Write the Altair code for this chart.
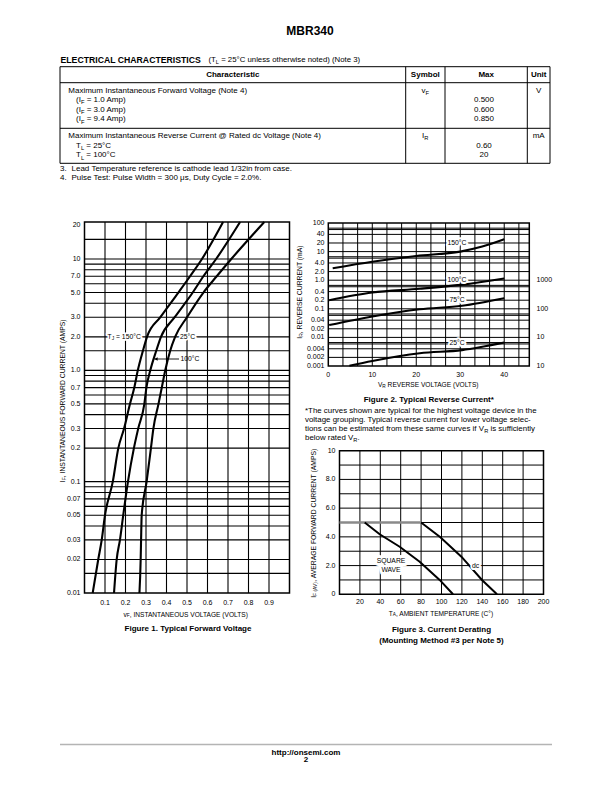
import altair as alt
import pandas as pd

# ====================== chart values ======================
# Figure 1 - Typical Forward Voltage: V_F (V) at each forward current I_F (A)
f1_i_levels = [0.01, 0.02, 0.03, 0.05, 0.1, 0.2, 0.3, 0.5, 0.7, 1.0, 1.5, 2.0, 3.0, 5.0, 7.0, 10.0, 21.5]
f1_v_150 = [0.040, 0.067, 0.084, 0.100, 0.138, 0.165, 0.193, 0.222, 0.243, 0.260, 0.285, 0.305, 0.370, 0.458, 0.515, 0.573, 0.676]
f1_v_100 = [0.144, 0.157, 0.173, 0.189, 0.212, 0.241, 0.262, 0.292, 0.302, 0.321, 0.350, 0.373, 0.440, 0.528, 0.580, 0.642, 0.759]
f1_v_25 = [0.268, 0.274, 0.276, 0.279, 0.303, 0.324, 0.336, 0.361, 0.377, 0.394, 0.418, 0.442, 0.500, 0.580, 0.645, 0.716, 0.877]
f1_x_ticks = [0.1, 0.2, 0.3, 0.4, 0.5, 0.6, 0.7, 0.8, 0.9]
f1_x_labels = ["0.1", "0.2", "0.3", "0.4", "0.5", "0.6", "0.7", "0.8", "0.9"]
f1_y_ticks = [20, 10, 7, 5, 3, 2, 1, 0.7, 0.5, 0.3, 0.2, 0.1, 0.07, 0.05, 0.03, 0.02, 0.01]
f1_y_labels = ["20", "10", "7.0", "5.0", "3.0", "2.0", "1.0", "0.7", "0.5", "0.3", "0.2", "0.1",
               "0.07", "0.05", "0.03", "0.02", "0.01"]
f1_grid_i = [15, 10, 9, 8, 7, 6, 5, 4, 3, 2, 1.5, 1, 0.9, 0.8, 0.7, 0.6, 0.5, 0.4, 0.3, 0.2,
             0.1, 0.09, 0.08, 0.07, 0.06, 0.05, 0.04, 0.03, 0.02, 0.015]
f1_xdom = [0, 1]
f1_ydom = [0.01, 21.5]

# Figure 2 - Typical Reverse Current: V_R (V) vs I_R (mA)
f2_v_150 = [1.0, 10.0, 20.0, 30.0, 35.0, 40.0]
f2_i_150 = [2.6, 4.4, 7.0, 10.0, 15.0, 27.0]
f2_v_100 = [0.2, 10.0, 20.8, 30.4, 40.0]
f2_i_100 = [0.20, 0.37, 0.50, 0.70, 1.15]
f2_v_75 = [0.2, 10.0, 20.8, 30.4, 40.0]
f2_i_75 = [0.027, 0.054, 0.096, 0.128, 0.235]
f2_v_25 = [4.8, 10.0, 20.8, 30.4, 40.0]
f2_i_25 = [0.00102, 0.0015, 0.0028, 0.0036, 0.0066]
f2_x_ticks = [0, 10, 20, 30, 40]
f2_x_labels = ["0", "10", "20", "30", "40"]
f2_y_ticks = [100, 40, 20, 10, 4, 2, 1, 0.4, 0.2, 0.1, 0.04, 0.02, 0.01, 0.004, 0.002, 0.001]
f2_y_labels = ["100", "40", "20", "10", "4.0", "2.0", "1.0", "0.4", "0.2", "0.1", "0.04", "0.02",
               "0.01", "0.004", "0.002", "0.001"]
f2_right_ticks = [1, 0.1, 0.01, 0.001]
f2_right_labels = ["1000", "100", "10", "10"]
f2_grid_v = [3.33, 6.67, 10, 13.33, 16.67, 20, 23.33, 26.67, 30, 33.33, 36.67, 40, 43.33]
f2_grid_i = [66, 59, 40, 20, 10, 6.6, 5.9, 4, 2, 1, 0.66, 0.59, 0.4, 0.2, 0.1, 0.066, 0.059,
             0.04, 0.02, 0.01, 0.0066, 0.0059, 0.004, 0.002]
f2_label_names = ["150°C", "100°C", "75°C", "25°C"]
f2_label_levels = [20, 1, 0.2, 0.0062]
f2_xdom = [0, 45.7]
f2_ydom = [0.001, 100]

# Figure 3 - Current Derating: T_A (C) vs I_F(AV) (A)
f3_flat_t = [0, 80]
f3_flat_i = [5.0, 5.0]
f3_sq_t = [24.7, 39.4, 59.0, 78.6, 98.2, 111.3]
f3_sq_i = [5.0, 4.18, 3.31, 2.27, 1.0, 0.0]
f3_dc_t = [80.0, 98.9, 119.5, 139.7, 154.4]
f3_dc_i = [5.0, 3.97, 2.62, 1.0, 0.0]
f3_x_ticks = [20, 40, 60, 80, 100, 120, 140, 160, 180, 200]
f3_x_labels = ["20", "40", "60", "80", "100", "120", "140", "160", "180", "200"]
f3_y_ticks = [10, 8, 6, 4, 2, 0]
f3_y_labels = ["10", "8.0", "6.0", "4.0", "2.0", "0"]
f3_grid_t = [20, 40, 60, 80, 100, 120, 140, 160, 180]
f3_grid_i = [1, 2, 3, 4, 5, 6, 7, 8, 9]
f3_xdom = [0, 200]
f3_ydom = [0, 10]

# ====================== layout helpers ======================
FONT = "Liberation Sans, Arial, Helvetica, sans-serif"
OFF = 8  # page margin


def px(v):
    return v - OFF


HELV = {' ': 278, '!': 278, '"': 355, '#': 556, '%': 889, '&': 667, "'": 191, '(': 333, ')': 333,
        '*': 389, '+': 584, ',': 278, '-': 333, '.': 278, '/': 278, ':': 278, ';': 278, '=': 584,
        '@': 1015, '°': 400, 'μ': 556}
for ch in '0123456789':
    HELV[ch] = 556
HELV.update(dict(A=667, B=667, C=722, D=722, E=667, F=611, G=778, H=722, I=278, J=500, K=667, L=556,
                 M=833, N=722, O=778, P=667, Q=778, R=722, S=667, T=611, U=722, V=667, W=944, X=667,
                 Y=667, Z=611))
HELV.update(dict(a=556, b=556, c=500, d=556, e=556, f=278, g=556, h=556, i=222, j=222, k=500, l=222,
                 m=833, n=556, o=556, p=556, q=556, r=333, s=500, t=278, u=556, v=500, w=722, x=500,
                 y=500, z=500))


def tw(s, size):
    return sum(HELV.get(c, 556) for c in s) * size / 1000.0


layers = []


def text_layer(rows, size, align='left', weight='normal', angle=0, dy=0.0, halo=0,
               xscale=None, yscale=None, color='black'):
    d = pd.DataFrame(rows)
    if xscale is None:
        d['x'] = d['x'] - OFF
        xch = alt.X('x:Q', scale=None, axis=None)
    else:
        xch = alt.X('x:Q', scale=xscale, axis=None)
    if yscale is None:
        d['y'] = d['y'] - OFF
        ych = alt.Y('y:Q', scale=None, axis=None)
    else:
        ych = alt.Y('y:Q', scale=yscale, axis=None)
    base = alt.Chart(d).encode(x=xch, y=ych, text='t:N')
    props = dict(font=FONT, fontSize=size, fontWeight=weight, align=align, baseline='middle',
                 angle=angle, dy=dy)
    if halo:
        layers.append(base.mark_text(color='white', stroke='white', strokeWidth=halo,
                                     strokeJoin='round', **props))
    layers.append(base.mark_text(color=color, **props))


def rich(parts, x, y, size, anchor='left', angle=0, halo=0, yscale=None, weight='normal', sub=0.72):
    sizes = [size * sub if s else size for _, s in parts]
    widths = [tw(t, z) for (t, _), z in zip(parts, sizes)]
    W = sum(widths)
    cum = {'left': 0.0, 'center': -W / 2.0, 'right': -W}[anchor]
    main, subs = [], []
    for (t, s), z, w in zip(parts, sizes, widths):
        stripped = t.lstrip(' ')
        o = cum + tw(t[:len(t) - len(stripped)], z)
        if angle == 270:
            row = {'t': stripped, 'x': x, 'y': y - o}
        else:
            row = {'t': stripped, 'x': x + o, 'y': y}
        (subs if s else main).append(row)
        cum += w
    if main:
        text_layer(main, size, 'left', weight, angle, 0.0, halo, yscale=yscale)
    if subs:
        text_layer(subs, size * sub, 'left', weight, angle, size * 0.3, halo, yscale=yscale)


def rules_px(segs, color='black', width=1.0):
    d = pd.DataFrame([{'x': px(a), 'y': px(b), 'x2': px(c), 'y2': px(e)} for a, b, c, e in segs])
    layers.append(alt.Chart(d).mark_rule(color=color, strokeWidth=width).encode(
        x=alt.X('x:Q', scale=None, axis=None), y=alt.Y('y:Q', scale=None, axis=None),
        x2='x2:Q', y2='y2:Q'))


def vgrid(values, xs, ys, ydom, width=1.0):
    d = pd.DataFrame({'v': values, 'a': ydom[0], 'b': ydom[1]})
    layers.append(alt.Chart(d).mark_rule(color='black', strokeWidth=width).encode(
        x=alt.X('v:Q', scale=xs, axis=None), y=alt.Y('a:Q', scale=ys, axis=None), y2='b:Q'))


def hgrid(values, xs, ys, xdom, width=1.0):
    d = pd.DataFrame({'v': values, 'a': xdom[0], 'b': xdom[1]})
    layers.append(alt.Chart(d).mark_rule(color='black', strokeWidth=width).encode(
        y=alt.Y('v:Q', scale=ys, axis=None), x=alt.X('a:Q', scale=xs, axis=None), x2='b:Q'))


def frame(xs, ys, xdom, ydom, width=1.5):
    d = pd.DataFrame({'x0': [xdom[0]], 'x1': [xdom[1]], 'y0': [ydom[0]], 'y1': [ydom[1]]})
    layers.append(alt.Chart(d).mark_rect(fill='white', fillOpacity=0, stroke='black',
                                         strokeWidth=width).encode(
        x=alt.X('x0:Q', scale=xs, axis=None), x2='x1:Q',
        y=alt.Y('y0:Q', scale=ys, axis=None), y2='y1:Q'))


def curves(series, xs, ys, width=2.0, color='black', interp='monotone'):
    rows = []
    for name, (xv, yv) in series.items():
        for a, b in zip(xv, yv):
            rows.append({'s': name, 'x': a, 'y': b})
    layers.append(alt.Chart(pd.DataFrame(rows)).mark_line(
        color=color, strokeWidth=width, interpolate=interp).encode(
        x=alt.X('x:Q', scale=xs, axis=None), y=alt.Y('y:Q', scale=ys, axis=None), detail='s:N'))


def yticks(vals, labels, ys, xpage, size=7):
    text_layer([{'t': l, 'x': xpage, 'y': v} for v, l in zip(vals, labels)], size,
               align='right', yscale=ys)


def xticks(vals, labels, xs, ypage, size=7):
    text_layer([{'t': l, 'x': v, 'y': ypage} for v, l in zip(vals, labels)], size,
               align='center', xscale=xs)


# ====================== scales ======================
F1X = alt.Scale(type='linear', domain=f1_xdom, range=[px(84.5), px(289.5)], nice=False, zero=False)
F1Y = alt.Scale(type='log', domain=f1_ydom, range=[px(593), px(222)], nice=False)
F2X = alt.Scale(type='linear', domain=f2_xdom, range=[px(328.3), px(529.3)], nice=False, zero=False)
F2Y = alt.Scale(type='log', domain=f2_ydom, range=[px(366), px(223)], nice=False)
F3X = alt.Scale(type='linear', domain=f3_xdom, range=[px(339.5), px(543.5)], nice=False, zero=False)
F3Y = alt.Scale(type='linear', domain=f3_ydom, range=[px(594.3), px(450.7)], nice=False, zero=False)

# ====================== page header & table ======================
text_layer([{'t': 'MBR340', 'x': 310, 'y': 30.5}], 12, 'center', 'bold')
text_layer([{'t': 'ELECTRICAL CHARACTERISTICS', 'x': 60.5, 'y': 59.5}], 8.7, 'left', 'bold')
rich([('(T', False), ('L', True), (' = 25°C unless otherwise noted) (Note 3)', False)], 208.5, 60, 7.8)

rules_px([(60, 66.7, 550, 66.7), (60, 163.3, 550, 163.3), (60, 66.7, 60, 163.3),
          (550, 66.7, 550, 163.3), (60, 82.7, 550, 82.7), (60, 128.3, 550, 128.3),
          (405.7, 66.7, 405.7, 163.3), (445, 66.7, 445, 163.3), (527.3, 66.7, 527.3, 163.3)],
         width=1.0)
text_layer([{'t': 'Characteristic', 'x': 232.8, 'y': 74.7}, {'t': 'Symbol', 'x': 425.3, 'y': 74.7},
            {'t': 'Max', 'x': 486.2, 'y': 74.7}, {'t': 'Unit', 'x': 538.7, 'y': 74.7}],
           8, 'center', 'bold')
text_layer([{'t': 'Maximum Instantaneous Forward Voltage (Note 4)', 'x': 68.3, 'y': 91},
            {'t': 'Maximum Instantaneous Reverse Current @ Rated dc Voltage (Note 4)', 'x': 68.3, 'y': 136}],
           8, 'left')
for amp, yy in [('1.0', 100), ('3.0', 109.5), ('9.4', 119.3)]:
    rich([('(I', False), ('F', True), (' = ' + amp + ' Amp)', False)], 76, yy, 8)
rich([('T', False), ('L', True), (' = 25°C', False)], 76, 145.7, 8)
rich([('T', False), ('L', True), (' = 100°C', False)], 76, 155.3, 8)
rich([('v', False), ('F', True)], 425.3, 91, 8, anchor='center')
rich([('I', False), ('R', True)], 425.3, 136, 8, anchor='center')
text_layer([{'t': '0.500', 'x': 484, 'y': 100}, {'t': '0.600', 'x': 484, 'y': 109.5},
            {'t': '0.850', 'x': 484, 'y': 119.3}, {'t': '0.60', 'x': 484, 'y': 145.7},
            {'t': '20', 'x': 484, 'y': 155.3}, {'t': 'V', 'x': 538.7, 'y': 91},
            {'t': 'mA', 'x': 538.7, 'y': 136}], 8, 'center')
text_layer([{'t': '3.', 'x': 60, 'y': 168.7}, {'t': '4.', 'x': 60, 'y': 178.3},
            {'t': 'Lead Temperature reference is cathode lead 1/32in from case.', 'x': 71.5, 'y': 168.7},
            {'t': 'Pulse Test: Pulse Width = 300 μs, Duty Cycle = 2.0%.', 'x': 71.5, 'y': 178.3}],
           8, 'left')

# ====================== Figure 1 ======================
hgrid(f1_grid_i, F1X, F1Y, f1_xdom, 1.1)
vgrid(f1_x_ticks, F1X, F1Y, f1_ydom, 1.1)
frame(F1X, F1Y, f1_xdom, f1_ydom, 1.5)
curves({'150': (f1_v_150, f1_i_levels), '100': (f1_v_100, f1_i_levels), '25': (f1_v_25, f1_i_levels)},
       F1X, F1Y, 2.1)
rich([('T', False), ('J', True), (' = 150°C', False)], 107.5, 2, 6.8, halo=3.5, yscale=F1Y)
rich([('25°C', False)], 180, 2, 6.8, halo=3.5, yscale=F1Y)
rules_px([(154.5, 359, 179, 359)], width=0.9)
layers.append(alt.Chart(pd.DataFrame({'x': [px(156)], 'y': [px(359)]})).mark_point(
    shape='triangle-left', filled=True, size=14, color='black', opacity=1).encode(
    x=alt.X('x:Q', scale=None, axis=None), y=alt.Y('y:Q', scale=None, axis=None)))
text_layer([{'t': '100°C', 'x': 180.5, 'y': 359}], 6.8, 'left')
yticks(f1_y_ticks, f1_y_labels, F1Y, 80.5)
xticks(f1_x_ticks, f1_x_labels, F1X, 602.5)
rich([('v', False), ('F', True), (', INSTANTANEOUS VOLTAGE (VOLTS)', False)], 187, 614.5, 6.6,
     anchor='center')
rich([('I', False), ('F', True), (', INSTANTANEOUS FORWARD CURRENT (AMPS)', False)], 63, 400, 6.8,
     anchor='center', angle=270)
text_layer([{'t': 'Figure 1. Typical Forward Voltage', 'x': 188, 'y': 628.5}], 8, 'center', 'bold')

# ====================== Figure 2 ======================
hgrid(f2_grid_i, F2X, F2Y, f2_xdom, 1.0)
vgrid(f2_grid_v, F2X, F2Y, f2_ydom, 1.0)
frame(F2X, F2Y, f2_xdom, f2_ydom, 1.5)
curves({'150': (f2_v_150, f2_i_150), '100': (f2_v_100, f2_i_100), '75': (f2_v_75, f2_i_75),
        '25': (f2_v_25, f2_i_25)}, F2X, F2Y, 2.1)
text_layer([{'t': n, 'x': 457, 'y': lv} for n, lv in zip(f2_label_names, f2_label_levels)], 6.8,
           'center', halo=4, yscale=F2Y)
yticks(f2_y_ticks, f2_y_labels, F2Y, 324.5)
text_layer([{'t': l, 'x': 536.5, 'y': v} for v, l in zip(f2_right_ticks, f2_right_labels)], 7,
           'left', yscale=F2Y)
xticks(f2_x_ticks, f2_x_labels, F2X, 374.5)
rich([('V', False), ('R', True), (' REVERSE VOLTAGE (VOLTS)', False)], 429, 385, 6.6, anchor='center')
rich([('I', False), ('R', True), (', REVERSE CURRENT (mA)', False)], 300, 292, 6.8, anchor='center',
     angle=270)
text_layer([{'t': 'Figure 2. Typical Reverse Current*', 'x': 428.8, 'y': 399.5}], 8, 'center', 'bold')
text_layer([{'t': '*The curves shown are typical for the highest voltage device in the', 'x': 305, 'y': 411},
            {'t': 'voltage grouping. Typical reverse current for lower voltage selec-', 'x': 305, 'y': 420}],
           7.9, 'left')
rich([('tions can be estimated from these same curves if V', False), ('R', True),
      (' is sufficiently', False)], 305, 429, 7.9)
rich([('below rated V', False), ('R', True), ('.', False)], 305, 437.8, 7.9)

# ====================== Figure 3 ======================
hgrid(f3_grid_i, F3X, F3Y, f3_xdom, 1.0)
vgrid(f3_grid_t, F3X, F3Y, f3_ydom, 1.0)
frame(F3X, F3Y, f3_xdom, f3_ydom, 1.5)
curves({'flat': (f3_flat_t, f3_flat_i)}, F3X, F3Y, 2.6, color='#8a8a8a', interp='linear')
curves({'square': (f3_sq_t, f3_sq_i), 'dc': (f3_dc_t, f3_dc_i)}, F3X, F3Y, 2.0, interp='linear')
text_layer([{'t': 'SQUARE', 'x': 391, 'y': 2.33}, {'t': 'WAVE', 'x': 391, 'y': 1.68}], 6.8, 'center',
           halo=6, yscale=F3Y)
text_layer([{'t': 'dc', 'x': 475.5, 'y': 2}], 6.8, 'center', halo=4, yscale=F3Y)
yticks(f3_y_ticks, f3_y_labels, F3Y, 335.5)
xticks(f3_x_ticks, f3_x_labels, F3X, 602)
rich([('T', False), ('A', True), (', AMBIENT TEMPERATURE (C°)', False)], 441.5, 613.5, 6.6,
     anchor='center')
rich([('I', False), ('F (AV)', True), (', AVERAGE FORWARD CURRENT (AMPS)', False)], 314, 522.5, 6.8,
     anchor='center', angle=270)
text_layer([{'t': 'Figure 3. Current Derating', 'x': 441.5, 'y': 630},
            {'t': '(Mounting Method #3 per Note 5)', 'x': 441.5, 'y': 640.5}], 8, 'center', 'bold')

# ====================== footer ======================
rules_px([(60, 744.5, 552, 744.5)], color='#b4b4b4', width=1.5)
text_layer([{'t': 'http://onsemi.com', 'x': 306, 'y': 752.8}, {'t': '2', 'x': 306, 'y': 760.3}],
           8, 'center', 'bold')

chart = alt.layer(*layers).resolve_scale(x='independent', y='independent').properties(
    width=596, height=776, padding=0, autosize=alt.AutoSizeParams(type='none'),
    background='white').configure_view(stroke=None)

chart.save("out.html", embed_options={"renderer": "svg", "actions": False})
